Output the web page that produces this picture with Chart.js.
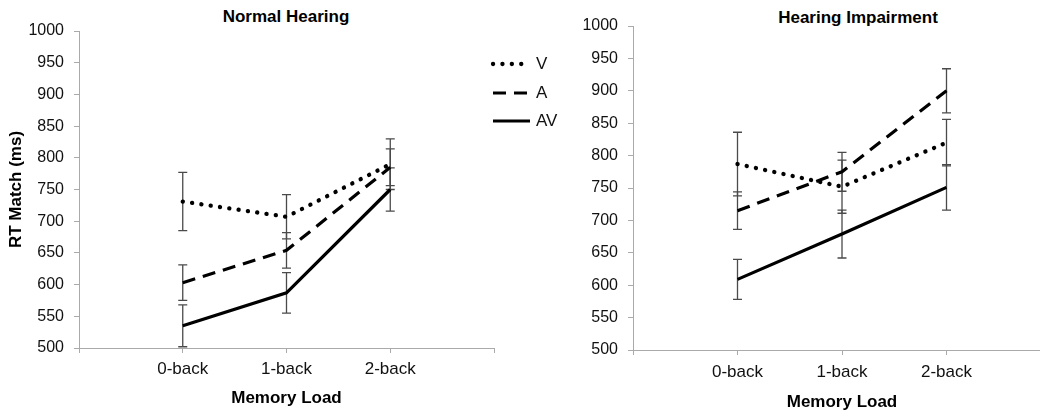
<!DOCTYPE html>
<html>
<head>
<meta charset="utf-8">
<script src="https://cdn.jsdelivr.net/npm/chart.js@4.4.0/dist/chart.umd.min.js"></script>
<style>
  html, body { margin: 0; padding: 0; background: #fff; overflow: hidden; }
  body { width: 1040px; height: 413px; position: relative; font-family: "Liberation Sans", Arial, sans-serif; }
  canvas { position: absolute; top: 0; }
  #leftChart { left: 0; }
  #rightChart { left: 560px; }
  .title { position: absolute; font-weight: bold; font-size: 17px; line-height: 20px; color: #000; white-space: nowrap; transform: translateX(-50%); }
  #legend { position: absolute; left: 490px; top: 50px; font-size: 17px; color: #111; }
  .item { display: flex; align-items: center; height: 28.5px; }
  .item svg { margin-right: 4px; }
</style>
</head>
<body>
<div class="title" style="left:286px;top:7px">Normal Hearing</div>
<div class="title" style="left:858px;top:8px">Hearing Impairment</div>
<canvas id="leftChart" width="560" height="413"></canvas>
<canvas id="rightChart" width="500" height="413"></canvas>
<div id="legend"></div>
<script>
// categories (blank slots at both ends, as in the original axis)
const loads = ["0-back", "1-back", "2-back"];

// Normal hearing, mean RT match (ms) and error bars
const nhV = [731, 707, 790];
const nhA = [603, 654, 785];
const nhAV = [535, 587, 750];
const nhVErr = [46, 35, 40];
const nhAErr = [28, 28, 29];
const nhAVErr = [33, 32, 34];

// Hearing impairment
const hiV = [787, 752, 820];
const hiA = [715, 775, 900];
const hiAV = [609, 679, 751];
const hiVErr = [49, 41, 36];
const hiAErr = [29, 30, 34];
const hiAVErr = [31, 37, 35];

const yTicksMin = 500;
const yTicksMax = 1000;
const yStep = 50;

const seriesNames = ["V", "A", "AV"];

const pad = (arr) => [null, ...arr, null];

const lineStyles = {
  V: { borderDash: [0.1, 9.3], borderCapStyle: "round", borderWidth: 4.3 },
  A: { borderDash: [13, 8], borderCapStyle: "butt", borderWidth: 3.2 },
  AV: { borderDash: [], borderCapStyle: "butt", borderWidth: 3.2 }
};

const errorBars = {
  id: "errorBars",
  beforeDatasetsDraw(chart) {
    const { ctx, scales: { x, y } } = chart;
    ctx.save();
    ctx.strokeStyle = "#4a4a4a";
    ctx.lineWidth = 1.3;
    chart.data.datasets.forEach((ds) => {
      ds.data.forEach((v, i) => {
        if (v == null) return;
        const e = ds.errors[i];
        const px = x.getPixelForValue(i);
        const top = y.getPixelForValue(v + e);
        const bot = y.getPixelForValue(v - e);
        ctx.beginPath();
        ctx.moveTo(px, top);
        ctx.lineTo(px, bot);
        ctx.moveTo(px - 4.5, top);
        ctx.lineTo(px + 4.5, top);
        ctx.moveTo(px - 4.5, bot);
        ctx.lineTo(px + 4.5, bot);
        ctx.stroke();
      });
    });
    ctx.restore();
  }
};

function makeChart(canvas, values, errors, opts) {
  const datasets = seriesNames.map((name, k) => ({
    label: name,
    data: pad(values[k]),
    errors: pad(errors[k]),
    borderColor: "#000",
    backgroundColor: "#000",
    pointRadius: 0,
    tension: 0,
    fill: false,
    ...lineStyles[name]
  }));

  return new Chart(canvas.getContext("2d"), {
    type: "line",
    data: { labels: pad(loads).map((l) => l || ""), datasets },
    options: {
      responsive: false,
      animation: false,
      devicePixelRatio: 1,
      layout: { padding: { top: opts.top, right: opts.right, left: 0, bottom: 0 } },
      plugins: { legend: { display: false }, tooltip: { enabled: false }, title: { display: false } },
      scales: {
        x: {
          offset: false,
          grid: { drawOnChartArea: false, tickLength: 5, color: "#aaa" },
          border: { color: "#aaa" },
          ticks: { color: "#111", font: { size: 17 }, padding: opts.xTickPad, maxRotation: 0, autoSkip: false },
          title: { display: true, text: "Memory Load", color: "#000", font: { size: 17, weight: "bold" }, padding: { top: 0, bottom: opts.xTitlePad } },
          afterFit(s) { s.height = opts.bottom; }
        },
        y: {
          min: yTicksMin,
          max: yTicksMax,
          grid: { drawOnChartArea: false, tickLength: 5, color: "#aaa" },
          border: { color: "#aaa" },
          ticks: { stepSize: yStep, color: "#111", font: { size: 16 }, padding: 10, callback: (v) => String(v) },
          title: { display: !!opts.yTitle, text: opts.yTitle || "", color: "#000", font: { size: 17, weight: "bold" }, padding: { top: 6, bottom: 0 } },
          afterFit(s) { s.width = opts.left; }
        }
      }
    },
    plugins: [errorBars]
  });
}

Chart.defaults.font.family = '"Liberation Sans", Arial, sans-serif';

makeChart(document.getElementById("leftChart"),
  [nhV, nhA, nhAV], [nhVErr, nhAErr, nhAVErr],
  { top: 31, right: 66, left: 79, bottom: 65, xTickPad: 6, xTitlePad: 4, yTitle: "RT Match (ms)" });

makeChart(document.getElementById("rightChart"),
  [hiV, hiA, hiAV], [hiVErr, hiAErr, hiAVErr],
  { top: 26, right: 9, left: 73, bottom: 63, xTickPad: 7, xTitlePad: 0 });

// legend
const legend = document.getElementById("legend");
seriesNames.forEach((name) => {
  const st = lineStyles[name];
  const row = document.createElement("div");
  row.className = "item";
  const dash = st.borderDash.length ? st.borderDash.join(" ") : "none";
  row.innerHTML =
    `<svg width="42" height="10"><line x1="3" y1="5" x2="40" y2="5" stroke="#000" stroke-width="${st.borderWidth}" ` +
    `stroke-dasharray="${dash}" stroke-linecap="${st.borderCapStyle}"/></svg><span>${name}</span>`;
  legend.appendChild(row);
});
</script>
</body>
</html>
